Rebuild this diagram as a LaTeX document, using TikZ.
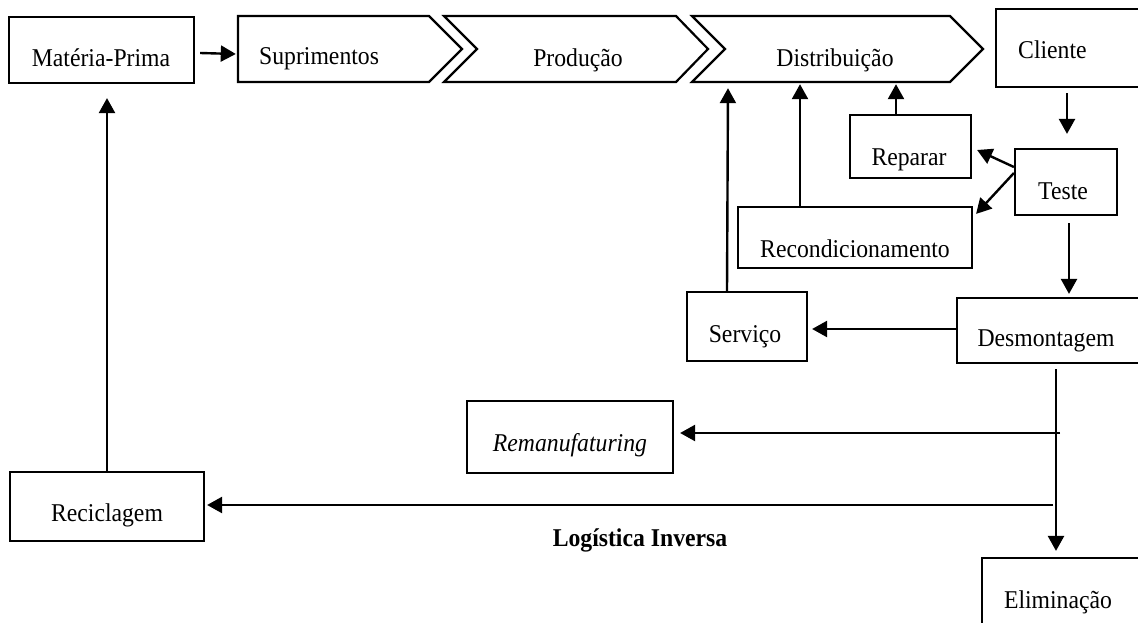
\documentclass[tikz,border=0pt]{standalone}
\usepackage{fontspec}
\setmainfont{Liberation Serif}
\usetikzlibrary{arrows.meta,calc}
\newcommand\dgfont{\fontsize{23.7}{28}\selectfont}
\newcommand\tallt[1]{\scalebox{1}[1.08]{#1}}
\begin{document}
\begin{tikzpicture}[x=1pt,y=-1pt,
  box/.style={draw,line width=2.2pt,inner sep=0pt},
  body/.style={draw=none,inner sep=0pt},
  lbl/.style={font=\dgfont,inner sep=0pt,anchor=base},
  arr/.style={line width=2.4pt,-{Triangle[length=15pt,width=16pt]}},
  chev/.style={draw,line width=2.2pt,line join=miter}]
\useasboundingbox[fill=white] (0,0) rectangle (1138,623);
% boxes
\node[box,minimum width=185pt,minimum height=66pt] (mp) at (101.5,50) {};
\node[box,minimum width=154pt,minimum height=78pt] (cli) at (1073,48) {};
\node[box,minimum width=121pt,minimum height=63pt] (rep) at (910.5,146.5) {};
\node[box,minimum width=102pt,minimum height=66pt] (teste) at (1066,182) {};
\node[box,minimum width=234pt,minimum height=61pt] (recond) at (855,237.5) {};
\node[box,minimum width=120pt,minimum height=69pt] (serv) at (747,326.5) {};
\node[box,minimum width=193pt,minimum height=65pt] (desm) at (1053.5,330.5) {};
\node[box,minimum width=206pt,minimum height=72pt] (reman) at (570,437) {};
\node[box,minimum width=194pt,minimum height=69pt] (recic) at (107,506.5) {};
\node[box,minimum width=168pt,minimum height=82pt] (elim) at (1066,599) {};
% chevron bodies
\node[body,minimum width=191pt,minimum height=66pt] (sup) at (333.5,49) {};
\node[body,minimum width=232pt,minimum height=66pt] (prod) at (560,49) {};
\node[body,minimum width=258pt,minimum height=66pt] (dist) at (821,49) {};
\draw[chev] (238,16) -- (429,16) -- (462,49) -- (429,82) -- (238,82) -- cycle;
\draw[chev] (444,16) -- (676,16) -- (708,49) -- (676,82) -- (444,82) -- (477,49) -- cycle;
\draw[chev] (692,16) -- (950,16) -- (983,49) -- (950,82) -- (692,82) -- (725,49) -- cycle;
% labels
\node[lbl] (tmp) at (101,67) {\tallt{Matéria-Prima}};
\node[lbl,anchor=base west] (tsup) at (259,65) {\tallt{Suprimentos}};
\node[lbl] (tprod) at (578,67) {\tallt{Produção}};
\node[lbl] (tdist) at (835,67) {\tallt{Distribuição}};
\node[lbl,anchor=base west] (tcli) at (1018,59) {\tallt{Cliente}};
\node[lbl] (trep) at (909,165) {\tallt{Reparar}};
\node[lbl] (tteste) at (1063,200) {\tallt{Teste}};
\node[lbl] (trecond) at (855,257) {\tallt{Recondicionamento}};
\node[lbl] (tserv) at (745,342) {\tallt{Serviço}};
\node[lbl] (tdesm) at (1046,346) {\tallt{Desmontagem}};
\node[lbl,font={\dgfont\itshape}] (treman) at (570,451) {\tallt{Remanufaturing}};
\node[lbl] (trecic) at (107,521) {\tallt{Reciclagem}};
\node[lbl,font={\dgfont\bfseries}] (tli) at (640,546) {\tallt{Logística Inversa}};
\node[lbl] (telim) at (1058,608) {\tallt{Eliminação}};
% connectors
\draw[arr] ([shift={(5,3)}]mp.east) -- ([shift={(-2,5)}]sup.west);
\draw[arr,shorten >=14pt] (recic.north) -- (recic.north |- mp.south);
\draw[arr] ([shift={(-20,0)}]serv.north) -- ([shift={(-19,6)}]serv.north |- dist.south);
\draw[arr] ([shift={(-55,0)}]recond.north) -- ([shift={(-55,2)}]recond.north |- dist.south);
\draw[arr] ([shift={(-14.5,0)}]rep.north) -- ([shift={(-14.5,2)}]rep.north |- dist.south);
\draw[arr] ([shift={(-6,5)}]cli.south) -- ([shift={(1,-14)}]teste.north);
\draw[arr] ([shift={(0,-15)}]teste.west) -- ([shift={(5,3.5)}]rep.east);
\draw[arr] ([shift={(0,-9)}]teste.west) -- ([shift={(3,8)}]recond.north east);
\draw[arr] ([shift={(3,7)}]teste.south) -- ([shift={(3,-3)}]teste.south |- desm.north);
\draw[arr] ([shift={(0,-1.5)}]desm.west) -- ([shift={(4,2.5)}]serv.east);
\coordinate (v) at ([shift={(2.5,5)}]desm.south);
\draw[arr,shorten >=6pt] (v) -- (v |- elim.north);
\coordinate (jr) at (1060,433);
\coordinate (jc) at (1053,505);
\draw[arr,shorten >=6pt] (jr) -- (jr -| reman.east);
\draw[arr,shorten >=2pt] (jc) -- (jc -| recic.east);
\end{tikzpicture}
\end{document}
